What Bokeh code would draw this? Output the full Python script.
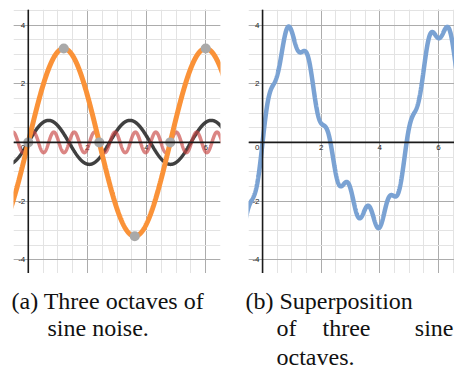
import numpy as np
from bokeh.plotting import figure
from bokeh.layouts import row, column
from bokeh.models import Grid, SingleIntervalTicker, Span, Range1d
from bokeh.core.properties import value
from bokeh.embed import file_html
from bokeh.resources import INLINE

# ---- data ----
octave_names = ["low", "mid", "high"]
octave_amplitudes = [3.2, 0.75, 0.35]
octave_periods = [4.8, 2.75, 0.69]
octave_colors = ["#fa9238", "#2b2b2b", "#c74440"]

key_x = [0.0, 1.2, 2.4, 3.6, 4.8, 6.0]
key_y = [0.0, 3.2, 0.0, -3.2, 0.0, 3.2]

xtick_vals = [2, 4, 6]
xtick_text = ["2", "4", "6"]
ytick_vals = [4, 2, -2, -4]
ytick_text = ["4", "2", "-2", "-4"]
origin_text = ["0"]

caption_words = ["(a) Three octaves of", "sine noise.", "(b) Superposition",
                 "of", "three", "octaves."]
caption_x = [11.0, 47.0, 245.0, 276.0, 322.0, 276.0]
caption_y = [27.7, 54.3, 27.7, 54.3, 54.3, 83.0]
caption_right_words = ["sine"]
caption_right_x = [453.0]
caption_right_y = [54.3]

xs = np.linspace(-0.6, 6.7, 1500)
waves = [a * np.sin(2 * np.pi * xs / T) for a, T in zip(octave_amplitudes, octave_periods)]
total = waves[0] + waves[1] + waves[2]

SANS = value("Liberation Sans")
SERIF = value("Liberation Serif")


def make_panel(width, x_range, bl, br):
    p = figure(width=width, height=273, x_range=x_range, y_range=(-4.47, 4.53),
               x_axis_location=None, y_axis_location=None,
               min_border_left=bl, min_border_right=br, min_border_top=9, min_border_bottom=0,
               output_backend="svg", toolbar_location=None)
    p.outline_line_color = None
    p.background_fill_color = "white"
    p.border_fill_color = "white"
    for dim in (0, 1):
        g = Grid(dimension=dim, ticker=SingleIntervalTicker(interval=2, num_minor_ticks=4),
                 grid_line_color="#9a9a9a", grid_line_width=1, grid_line_alpha=0.75,
                 minor_grid_line_color="#e3e3e3", minor_grid_line_width=1)
        p.add_layout(g)
    p.add_layout(Span(location=0, dimension="width", line_color="#1a1a1a", line_width=1.6))
    p.add_layout(Span(location=0, dimension="height", line_color="#1a1a1a", line_width=1.6))
    p.text(x=xtick_vals, y=[0] * len(xtick_vals), text=xtick_text, text_font=SANS,
           text_font_size="8px", text_color="#222222", text_align="center",
           text_baseline="top", y_offset=3)
    p.text(x=[0], y=[0], text=origin_text, text_font=SANS, text_font_size="8px",
           text_color="#222222", text_align="right", text_baseline="top", x_offset=-3, y_offset=3)
    p.text(x=[0] * len(ytick_vals), y=ytick_vals, text=ytick_text, text_font=SANS,
           text_font_size="8px", text_color="#222222", text_align="right",
           text_baseline="middle", x_offset=-3)
    return p


p1 = make_panel(234, (-0.5, 6.5), 13, 14)
p1.line(xs, waves[1], line_color=octave_colors[1], line_width=3.5, line_alpha=0.9)
p1.line(xs, waves[2], line_color=octave_colors[2], line_width=3.5, line_alpha=0.65)
p1.line(xs, waves[0], line_color=octave_colors[0], line_width=5)
p1.scatter(key_x, key_y, size=10, fill_color="#a9a9a9", line_color=None)

p2 = make_panel(220, (-0.48, 6.55), 14, 0)
p2.line(xs, total, line_color="#7aa2d3", line_width=4.5)

# caption strip below both panels
pc = figure(width=454, height=99, x_range=Range1d(0, 454), y_range=Range1d(99, 0),
            x_axis_location=None, y_axis_location=None, min_border=0,
            output_backend="svg", toolbar_location=None)
pc.outline_line_color = None
pc.grid.visible = False
pc.text(x=caption_x, y=caption_y, text=caption_words, text_font=SERIF,
        text_font_size="24px", text_color="#111111", text_align="left",
        text_baseline="alphabetic")
pc.text(x=caption_right_x, y=caption_right_y, text=caption_right_words, text_font=SERIF,
        text_font_size="24px", text_color="#111111", text_align="right",
        text_baseline="alphabetic")

layout = column(row(p1, p2, spacing=0), pc, spacing=0)
open("out.html", "w").write(file_html(layout, INLINE))
